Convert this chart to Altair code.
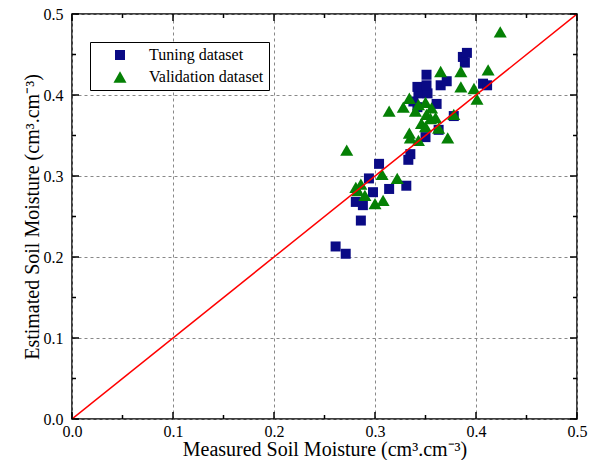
import altair as alt
import pandas as pd

# Tuning dataset (squares)
tun_x = [0.261, 0.271, 0.286, 0.281, 0.288, 0.294, 0.298, 0.314, 0.331, 0.304,
         0.333, 0.335, 0.350, 0.363, 0.378, 0.361, 0.343, 0.352, 0.342, 0.351,
         0.365, 0.371, 0.351, 0.389, 0.387, 0.391, 0.407, 0.411, 0.342, 0.338]
tun_y = [0.213, 0.204, 0.245, 0.268, 0.264, 0.297, 0.280, 0.284, 0.288, 0.315,
         0.320, 0.327, 0.348, 0.357, 0.374, 0.389, 0.402, 0.402, 0.410, 0.412,
         0.412, 0.417, 0.425, 0.440, 0.447, 0.452, 0.414, 0.412, 0.385, 0.392]

# Validation dataset (triangles)
val_x = [0.272, 0.281, 0.286, 0.290, 0.300, 0.307, 0.308, 0.322, 0.283, 0.314,
         0.328, 0.334, 0.343, 0.350, 0.356, 0.351, 0.355, 0.346, 0.350, 0.363,
         0.334, 0.335, 0.343, 0.372, 0.378, 0.365, 0.385, 0.412, 0.385, 0.398,
         0.401, 0.424, 0.360, 0.340]
val_y = [0.332, 0.286, 0.290, 0.276, 0.266, 0.302, 0.270, 0.297, 0.282, 0.380,
         0.385, 0.396, 0.388, 0.391, 0.384, 0.376, 0.371, 0.365, 0.361, 0.359,
         0.353, 0.347, 0.344, 0.347, 0.376, 0.429, 0.429, 0.431, 0.410, 0.408,
         0.395, 0.478, 0.372, 0.380]

series_names = ["Tuning dataset", "Validation dataset"]
line_x = [0.0, 0.5]
line_y = [0.0, 0.5]
major_ticks = [0.0, 0.1, 0.2, 0.3, 0.4, 0.5]
minor_ticks = [0.05, 0.15, 0.25, 0.35, 0.45]

df = pd.DataFrame({
    "x": tun_x + val_x,
    "y": tun_y + val_y,
    "dataset": [series_names[0]] * len(tun_x) + [series_names[1]] * len(val_x),
})
line_df = pd.DataFrame({"x": line_x, "y": line_y})
maj_df = pd.DataFrame({"x": major_ticks, "y": major_ticks})
min_df = pd.DataFrame({"x": minor_ticks, "y": minor_ticks})

W, H = 505, 405
FONT = "Liberation Serif"
xs = alt.Scale(domain=[0, 0.5], nice=False, zero=False)
ys = alt.Scale(domain=[0, 0.5], nice=False, zero=False)

XT = "Measured Soil Moisture (cm³.cm⁻³)"
YT = "Estimated Soil Moisture (cm³.cm⁻³)"

def xaxis():
    return alt.Axis(values=major_ticks, format=".1f", title=XT,
                    grid=True, gridDash=[3, 3], gridColor="#888888", gridWidth=1,
                    ticks=False, domain=False, labelPadding=4, titlePadding=0,
                    labelFlush=False, labelOverlap=False,
                    labelFont=FONT, labelFontSize=16, labelColor="black",
                    titleFont=FONT, titleFontSize=20, titleFontWeight="normal", titleColor="black")

def yaxis():
    return alt.Axis(values=major_ticks, format=".1f", title=YT,
                    grid=True, gridDash=[3, 3], gridColor="#888888", gridWidth=1,
                    ticks=False, domain=False, labelPadding=9, titlePadding=1,
                    labelFlush=False, labelOverlap=False,
                    labelFont=FONT, labelFontSize=16, labelColor="black",
                    titleFont=FONT, titleFontSize=20, titleFontWeight="normal", titleColor="black")

legend = alt.Legend(title=None, orient="none", legendX=18, legendY=28,
                    strokeColor="black", fillColor="white", padding=5,
                    labelFont=FONT, labelFontSize=16, labelColor="black",
                    symbolSize=45, symbolOffset=17, labelOffset=21, rowPadding=6)

points = alt.Chart(df).mark_point(filled=True, opacity=1).encode(
    x=alt.X("x:Q", scale=xs, axis=xaxis()),
    y=alt.Y("y:Q", scale=ys, axis=yaxis()),
    shape=alt.Shape("dataset:N", scale=alt.Scale(domain=series_names, range=["square", "triangle-up"]), legend=legend),
    color=alt.Color("dataset:N", scale=alt.Scale(domain=series_names, range=["#0a0a85", "#058005"]), legend=legend),
    size=alt.Size("dataset:N", scale=alt.Scale(domain=series_names, range=[100, 170]), legend=None),
)

line = alt.Chart(line_df).mark_line(color="#ff0000", strokeWidth=1.5, clip=True).encode(
    x=alt.X("x:Q", scale=xs, axis=xaxis()),
    y=alt.Y("y:Q", scale=ys, axis=yaxis()),
)

def xticks(d, length):
    b = alt.Chart(d).mark_rule(color="black", strokeWidth=1.5).encode(
        x=alt.X("x:Q", scale=xs, axis=xaxis()), y=alt.value(H), y2=alt.value(H - length))
    t = alt.Chart(d).mark_rule(color="black", strokeWidth=1.5).encode(
        x=alt.X("x:Q", scale=xs, axis=xaxis()), y=alt.value(0), y2=alt.value(length))
    return b + t

def yticks(d, length):
    l = alt.Chart(d).mark_rule(color="black", strokeWidth=1.5).encode(
        y=alt.Y("y:Q", scale=ys, axis=yaxis()), x=alt.value(0), x2=alt.value(length))
    r = alt.Chart(d).mark_rule(color="black", strokeWidth=1.5).encode(
        y=alt.Y("y:Q", scale=ys, axis=yaxis()), x=alt.value(W), x2=alt.value(W - length))
    return l + r

chart = alt.layer(
    points, line,
    xticks(maj_df, 7), xticks(min_df, 4),
    yticks(maj_df, 7), yticks(min_df, 4),
).properties(
    width=W, height=H,
    autosize=alt.AutoSizeParams(type="none"),
    padding={"left": 64, "top": 6, "right": 25, "bottom": 41},
    background="white",
).configure_view(stroke="black", strokeWidth=1.5)

chart.save("out.html", embed_options={"renderer": "svg", "actions": False})
